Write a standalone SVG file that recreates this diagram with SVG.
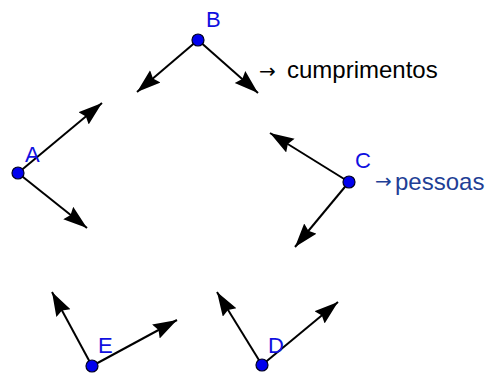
<svg xmlns="http://www.w3.org/2000/svg" width="486" height="374" viewBox="0 0 486 374">
<style>
.lbl{font-family:"Liberation Sans",Arial,sans-serif;font-size:22px;fill:#1010e0}
.edge{stroke:#000;stroke-width:2;fill:none;marker-end:url(#ah)}
.pt{fill:#0000ee;stroke:#000022;stroke-width:1.2}
.note{font-family:"Liberation Sans",Arial,sans-serif;font-size:24px}
.arr{font-family:"DejaVu Sans",sans-serif;font-size:20px}
</style>
<defs>
<marker id="ah" markerUnits="userSpaceOnUse" markerWidth="25" markerHeight="17" refX="24" refY="8" orient="auto">
<path d="M0,0 L24,8 L0,16 L3,8 z" fill="#000"/>
</marker>
</defs>
<rect width="486" height="374" fill="#fff"/>
<g id="connectors">
<line class="edge" x1="198" y1="40" x2="137" y2="92"/>
<line class="edge" x1="198" y1="40" x2="258" y2="93"/>
<line class="edge" x1="18" y1="173" x2="102" y2="103"/>
<line class="edge" x1="18" y1="173" x2="87" y2="228"/>
<line class="edge" x1="349" y1="182" x2="270" y2="133"/>
<line class="edge" x1="349" y1="182" x2="295" y2="247"/>
<line class="edge" x1="92" y1="366" x2="52" y2="292"/>
<line class="edge" x1="92" y1="366" x2="177" y2="320"/>
<line class="edge" x1="262" y1="365" x2="217" y2="292"/>
<line class="edge" x1="262" y1="365" x2="338" y2="302"/>
</g>
<g id="B"><circle class="pt" cx="198" cy="40" r="6"/><text class="lbl" x="206" y="27">B</text></g>
<g id="A"><circle class="pt" cx="18" cy="173" r="6"/><text class="lbl" x="25" y="162">A</text></g>
<g id="C"><circle class="pt" cx="349" cy="182" r="6"/><text class="lbl" x="355" y="168">C</text></g>
<g id="E"><circle class="pt" cx="92" cy="366" r="6"/><text class="lbl" x="98" y="353">E</text></g>
<g id="D"><circle class="pt" cx="262" cy="365" r="6"/><text class="lbl" x="268" y="353">D</text></g>
<g id="notes">
<text class="note" y="78" fill="#000"><tspan class="arr" x="259">→</tspan><tspan x="287">cumprimentos</tspan></text>
<text class="note" y="190" fill="#1f3f96"><tspan class="arr" x="375" dy="-2">→</tspan><tspan x="395" dy="2">pessoas</tspan></text>
</g>
</svg>
